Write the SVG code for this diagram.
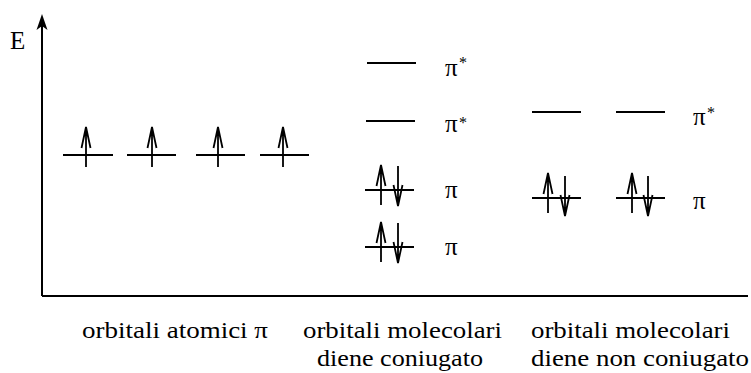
<svg xmlns="http://www.w3.org/2000/svg" width="751" height="373" viewBox="0 0 751 373">
<g id="axes">
<path stroke="#000" stroke-width="2" fill="none" d="M42,296 V26 M42,296 H748"/>
<path d="M42,14 L36.5,30 L42,26 L47.5,30 Z" fill="#000"/>
<text x="10" y="49" font-family="Liberation Serif" font-size="25">E</text>
</g>
<g id="atomic">
<path stroke="#000" stroke-width="2" fill="none" d="M63,155 H113 M127,155 H176 M196,155 H245 M260,155 H309"/>
<path stroke="#000" stroke-width="1.8" fill="none" d="M86,127 V167 M81.5,148 L86,127 L90.5,148 M152,127 V167 M147.5,148 L152,127 L156.5,148 M218,127 V167 M213.5,148 L218,127 L222.5,148 M283,127 V167 M278.5,148 L283,127 L287.5,148"/>
</g>
<g id="conj">
<path stroke="#000" stroke-width="2" fill="none" d="M367,63 H416 M366,121 H415 M365,190 H414 M365,247 H414"/>
<path stroke="#000" stroke-width="1.8" fill="none" d="M381,165 V205 M376.5,186 L381,165 L385.5,186 M398,206 V166 M393.5,185 L398,206 L402.5,185 M381,222 V262 M376.5,243 L381,222 L385.5,243 M398,263 V223 M393.5,242 L398,263 L402.5,242"/>
<text x="445" y="76" font-family="Liberation Serif" font-size="25">π</text><text x="459" y="68" font-family="Liberation Serif" font-size="16">*</text>
<text x="445" y="132" font-family="Liberation Serif" font-size="25">π</text><text x="459" y="128" font-family="Liberation Serif" font-size="16">*</text>
<text x="445" y="198" font-family="Liberation Serif" font-size="25">π</text>
<text x="445" y="255" font-family="Liberation Serif" font-size="25">π</text>
</g>
<g id="nonconj">
<path stroke="#000" stroke-width="2" fill="none" d="M532,112 H581 M616,112 H665 M532,198 H581 M616,198 H665"/>
<path stroke="#000" stroke-width="1.8" fill="none" d="M548,173 V213 M543.5,194 L548,173 L552.5,194 M565,216 V176 M560.5,195 L565,216 L569.5,195 M632,173 V213 M627.5,194 L632,173 L636.5,194 M648,216 V176 M643.5,195 L648,216 L652.5,195"/>
<text x="693" y="125" font-family="Liberation Serif" font-size="25">π</text><text x="707" y="118" font-family="Liberation Serif" font-size="16">*</text>
<text x="693" y="209" font-family="Liberation Serif" font-size="25">π</text>
</g>
<g id="labels">
<text x="82" y="338" font-family="Liberation Serif" font-size="24" textLength="186" lengthAdjust="spacingAndGlyphs">orbitali atomici π</text>
<text x="303" y="338" font-family="Liberation Serif" font-size="24" textLength="199" lengthAdjust="spacingAndGlyphs">orbitali molecolari</text>
<text x="317" y="366" font-family="Liberation Serif" font-size="24" textLength="166" lengthAdjust="spacingAndGlyphs">diene coniugato</text>
<text x="531" y="338" font-family="Liberation Serif" font-size="24" textLength="199" lengthAdjust="spacingAndGlyphs">orbitali molecolari</text>
<text x="531" y="366" font-family="Liberation Serif" font-size="24" textLength="218" lengthAdjust="spacingAndGlyphs">diene non coniugato</text>
</g>
</svg>
